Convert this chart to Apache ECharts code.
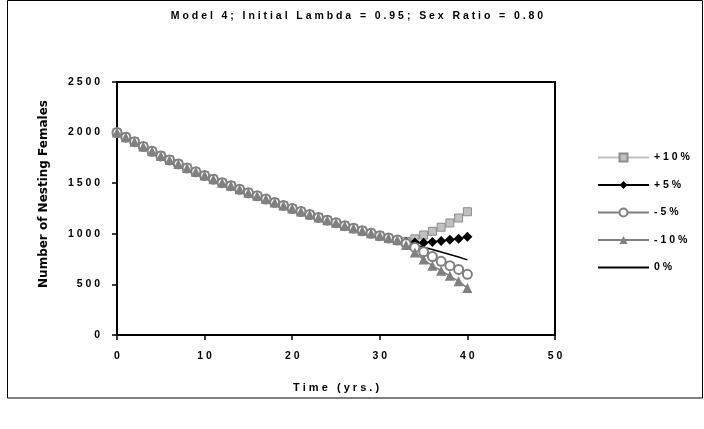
<!DOCTYPE html>
<html>
<head>
<meta charset="utf-8">
<script src="https://cdn.jsdelivr.net/npm/echarts@6/dist/echarts.min.js"></script>
<style>
  html, body { margin: 0; padding: 0; background: #fff; }
  #chart { width: 704px; height: 429px; }
</style>
</head>
<body>
<div id="chart"></div>
<script>
// years 0..40
var years = [0,1,2,3,4,5,6,7,8,9,10,11,12,13,14,15,16,17,18,19,20,
             21,22,23,24,25,26,27,28,29,30,31,32,33,34,35,36,37,38,39,40];

// shared part of all runs, years 0..32
var common = [2000,1955,1910,1862,1815,1770,1730,1690,1650,1612,1575,1540,1505,1475,1440,
              1405,1375,1343,1310,1280,1250,1220,1190,1162,1135,1108,1080,1055,1030,1005,
              980,958,938];

// years 33..40 for each scenario
var tailPlus10  = [925, 950, 988, 1025, 1065, 1107, 1156, 1218];
var tailPlus5   = [920, 915, 912, 920, 930, 940, 950, 970];
var tailMinus5  = [905, 865, 822, 775, 728, 685, 648, 600];
var tailMinus10 = [890, 815, 745, 685, 635, 585, 530, 465];
var tailZero    = [912, 890, 868, 845, 820, 795, 770, 742];

var names = ['+10%', '+5%', '-5%', '-10%', '0%'];
var yTicks = [0, 500, 1000, 1500, 2000, 2500];

// Excel-style wide letter spacing
function spaced(s) {
    return String(s).split('').join(' ');
}

function pairs(tail) {
    var vals = common.concat(tail);
    return years.map(function (t, i) { return [t, vals[i]]; });
}

var font = '"Liberation Sans", Arial, sans-serif';

var chart = echarts.init(document.getElementById('chart'));
var option = {
    animation: false,
    backgroundColor: '#fff',
    textStyle: { fontFamily: font },
    title: {
        text: spaced('Model 4; Initial Lambda = 0.95; Sex Ratio = 0.80'),
        left: 352,
        textAlign: 'center',
        top: 6,
        textStyle: { fontSize: 10.5, fontWeight: 'bold', color: '#000', fontFamily: font }
    },
    graphic: [{
        type: 'rect',
        shape: { x: 7.5, y: 0.5, width: 695, height: 397.5 },
        style: { fill: null, stroke: '#000', lineWidth: 1 },
        silent: true
    }, {
        type: 'text',
        x: 44,
        y: 194,
        rotation: Math.PI / 2,
        style: {
            text: 'Number of Nesting Females',
            align: 'center',
            verticalAlign: 'middle',
            fill: '#000',
            font: 'bold 12px "DejaVu Sans", sans-serif'
        },
        silent: true
    }],
    legend: {
        orient: 'vertical',
        left: 592,
        top: 147,
        itemWidth: 51,
        itemHeight: 10,
        itemGap: 16.5,
        data: names,
        formatter: function (n) { return spaced(n); },
        textStyle: { fontSize: 10.5, fontWeight: 'bold', color: '#000', fontFamily: font }
    },
    grid: {
        left: 117,
        right: 149,
        top: 82,
        bottom: 94,
        show: true,
        borderColor: '#000',
        borderWidth: 2,
        backgroundColor: '#fff'
    },
    xAxis: {
        type: 'value',
        min: 0,
        max: 50,
        interval: 10,
        name: spaced('Time (yrs.)'),
        nameLocation: 'middle',
        nameGap: 47,
        nameTextStyle: { fontSize: 11, fontWeight: 'bold', color: '#000', fontFamily: font },
        axisLine: { show: true, lineStyle: { color: '#000', width: 2 } },
        axisTick: { show: true, inside: false, length: 5, lineStyle: { color: '#000', width: 1.5 } },
        axisLabel: {
            fontSize: 10.5, fontWeight: 'bold', color: '#000', margin: 16,
            formatter: function (v) { return spaced(v); }
        },
        splitLine: { show: false }
    },
    yAxis: {
        type: 'value',
        min: 0,
        max: 2500,
        interval: 500,
        axisLine: { show: true, lineStyle: { color: '#000', width: 2 } },
        axisTick: { show: true, inside: false, length: 5, lineStyle: { color: '#000', width: 1.5 } },
        axisLabel: {
            fontSize: 10.5, fontWeight: 'bold', color: '#000', margin: 17,
            formatter: function (v) { return yTicks.indexOf(v) >= 0 ? spaced(v) : ''; }
        },
        splitLine: { show: false }
    },
    series: [
        {
            name: '+10%', type: 'line', data: pairs(tailPlus10),
            symbol: 'rect', symbolSize: 8,
            lineStyle: { color: '#c0c0c0', width: 1.5 },
            itemStyle: { color: '#c0c0c0', borderColor: '#8c8c8c', borderWidth: 1 }
        },
        {
            name: '+5%', type: 'line', data: pairs(tailPlus5),
            symbol: 'diamond', symbolSize: 10,
            lineStyle: { color: '#000', width: 1.5 },
            itemStyle: { color: '#000' }
        },
        {
            name: '-5%', type: 'line', data: pairs(tailMinus5),
            symbol: 'emptyCircle', symbolSize: 9,
            lineStyle: { color: '#808080', width: 1.5 },
            itemStyle: { color: '#808080', borderWidth: 1 }
        },
        {
            name: '-10%', type: 'line', data: pairs(tailMinus10),
            symbol: 'triangle', symbolSize: 10,
            lineStyle: { color: '#808080', width: 1.5 },
            itemStyle: { color: '#808080' }
        },
        {
            name: '0%', type: 'line', data: pairs(tailZero),
            symbol: 'none',
            lineStyle: { color: '#000', width: 1.5 },
            itemStyle: { color: '#000', opacity: 0 }
        }
    ]
};
chart.setOption(option);
</script>
</body>
</html>
